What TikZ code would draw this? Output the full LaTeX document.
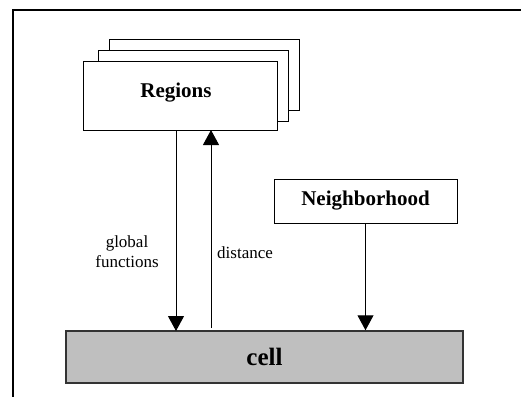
\documentclass[tikz,border=0pt]{standalone}
\usepackage{fontspec}
\setmainfont{Liberation Serif}
\usetikzlibrary{arrows.meta}
\begin{document}
\begin{tikzpicture}[x=1pt,y=-1pt,
  box/.style={draw=black,fill=white,line width=1pt,inner sep=0pt},
  title/.style={font=\bfseries\fontsize{21}{24}\selectfont},
  lbl/.style={font=\fontsize{17}{20}\selectfont,align=center,inner sep=0pt},
  conn/.style={line width=1pt,-{Triangle[length=15pt,width=16pt]}}]
\useasboundingbox (0,0) rectangle (521,397);
\draw[line width=1.3pt] (521,10) -- (13,10) -- (13,397);
% stacked region boxes
\node[box,minimum width=190pt,minimum height=71pt] (r3) at (204,74.5) {};
\node[box,minimum width=190pt,minimum height=71pt] (r2) at (193,85.5) {};
\node[box,minimum width=194pt,minimum height=69pt] (reg) at (180,95.5) {};
\node[title] (regt) at (176,93) {Regions};
% neighborhood
\node[box,minimum width=183pt,minimum height=44pt,title] (nb) at (365.5,201) {Neighborhood};
% cell
\node[draw=black!80,fill=black!25,line width=1.5pt,minimum width=397pt,minimum height=52pt,inner sep=0pt,font=\bfseries\fontsize{25}{28}\selectfont] (cell) at (264.5,357) {cell};
% connectors
\coordinate (gtop) at (176,130);
\coordinate (gbot) at (176,331);
\coordinate (dbot) at (211,328);
\coordinate (dtop) at (211,130);
\draw[conn] (gtop) -- (gbot);
\draw[conn] (dbot) -- (dtop);
\draw[conn] (nb.south) -- (nb.south |- cell.north);
\node[lbl] (gf) at (127,252) {global\\functions};
\node[lbl,anchor=west] (dist) at (217,253) {distance};
\end{tikzpicture}
\end{document}
